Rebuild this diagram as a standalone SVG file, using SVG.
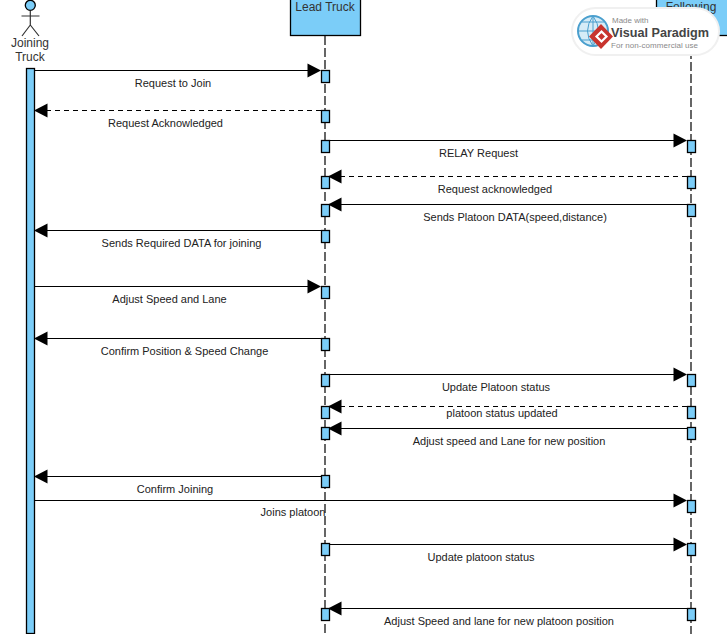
<svg xmlns="http://www.w3.org/2000/svg" width="727" height="634" viewBox="0 0 727 634">
<style>
text{font-family:"Liberation Sans",Arial,sans-serif;font-size:11px;fill:#222;text-anchor:middle}
.head{font-size:12px;fill:#333}
.fill{fill:#7bcdf8;stroke:#000;stroke-width:1.3}
.life{stroke:#000;stroke-width:1.2;stroke-dasharray:9 3;fill:none}
.msg{stroke:#000;stroke-width:1.2;fill:none}
.ret{stroke-dasharray:5 4}
.ah{fill:#000}
.wm{font-size:8px;fill:#8a8a8a;text-anchor:start}
</style>
<rect width="727" height="634" fill="#fff"/>
<g id="connectors">
<path class="life" d="M325 36V634"/>
<path class="life" d="M691 50V634"/>
<path class="msg" d="M35 70.500H309"/><path class="ah" d="M307.500 63.500L321 70.500L307.500 77.500Z"/>
<path class="msg ret" d="M321 110.500H46"/><path class="ah" d="M47.500 103.500L34 110.500L47.500 117.500Z"/>
<path class="msg" d="M330 140.500H675"/><path class="ah" d="M673.500 133.500L687 140.500L673.500 147.500Z"/>
<path class="msg ret" d="M687 176.500H340"/><path class="ah" d="M341.500 169.500L328 176.500L341.500 183.500Z"/>
<path class="msg" d="M687 204.500H340"/><path class="ah" d="M341.500 197.500L328 204.500L341.500 211.500Z"/>
<path class="msg" d="M321 230.500H46"/><path class="ah" d="M47.500 223.500L34 230.500L47.500 237.500Z"/>
<path class="msg" d="M35 286.500H309"/><path class="ah" d="M307.500 279.500L321 286.500L307.500 293.500Z"/>
<path class="msg" d="M321 338.500H46"/><path class="ah" d="M47.500 331.500L34 338.500L47.500 345.500Z"/>
<path class="msg" d="M330 374.500H675"/><path class="ah" d="M673.500 367.500L687 374.500L673.500 381.500Z"/>
<path class="msg ret" d="M687 406.500H340"/><path class="ah" d="M341.500 399.500L328 406.500L341.500 413.500Z"/>
<path class="msg" d="M687 428.500H340"/><path class="ah" d="M341.500 421.500L328 428.500L341.500 435.500Z"/>
<path class="msg" d="M321 476.500H46"/><path class="ah" d="M47.500 469.500L34 476.500L47.500 483.500Z"/>
<path class="msg" d="M35 500.500H675"/><path class="ah" d="M673.500 493.500L687 500.500L673.500 507.500Z"/>
<path class="msg" d="M330 544.500H675"/><path class="ah" d="M673.500 537.500L687 544.500L673.500 551.500Z"/>
<path class="msg" d="M687 608.500H340"/><path class="ah" d="M341.500 601.500L328 608.500L341.500 615.500Z"/>
</g>
<g id="joining-truck">
<circle class="fill" cx="30.300" cy="5.300" r="5"/>
<path d="M30.300 10.500V25M21.500 16H39.500M30.300 25L22 36M30.300 25L39 36" stroke="#333" stroke-width="1.200" fill="none"/>
<text class="head" x="30" y="47">Joining</text>
<text class="head" x="30" y="61">Truck</text>
<rect class="fill" x="26.500" y="68.500" width="8" height="565"/>
</g>
<g id="lead-truck">
<rect class="fill" x="290.500" y="-2" width="70" height="37.500"/>
<text class="head" x="325" y="10.500">Lead Truck</text>
<rect class="fill" x="321.500" y="70.500" width="8" height="12"/>
<rect class="fill" x="321.500" y="110.500" width="8" height="12"/>
<rect class="fill" x="321.500" y="140.500" width="8" height="12"/>
<rect class="fill" x="321.500" y="176.500" width="8" height="12"/>
<rect class="fill" x="321.500" y="204.500" width="8" height="12"/>
<rect class="fill" x="321.500" y="230.500" width="8" height="12"/>
<rect class="fill" x="321.500" y="286.500" width="8" height="12"/>
<rect class="fill" x="321.500" y="338.500" width="8" height="12"/>
<rect class="fill" x="321.500" y="374.500" width="8" height="12"/>
<rect class="fill" x="321.500" y="406.500" width="8" height="12"/>
<rect class="fill" x="321.500" y="427.500" width="8" height="12"/>
<rect class="fill" x="321.500" y="475.500" width="8" height="12"/>
<rect class="fill" x="321.500" y="543.500" width="8" height="12"/>
<rect class="fill" x="321.500" y="608.500" width="8" height="12"/>
</g>
<g id="following">
<rect class="fill" x="656.500" y="-2" width="80" height="37.500"/>
<text class="head" x="691" y="10.500">Following</text>
<rect class="fill" x="687.500" y="140.500" width="8" height="12"/>
<rect class="fill" x="687.500" y="176.500" width="8" height="12"/>
<rect class="fill" x="687.500" y="204.500" width="8" height="12"/>
<rect class="fill" x="687.500" y="374.500" width="8" height="12"/>
<rect class="fill" x="687.500" y="406.500" width="8" height="12"/>
<rect class="fill" x="687.500" y="427.500" width="8" height="12"/>
<rect class="fill" x="687.500" y="500.500" width="8" height="12"/>
<rect class="fill" x="687.500" y="543.500" width="8" height="12"/>
<rect class="fill" x="687.500" y="608.500" width="8" height="12"/>
</g>
<g id="labels">
<text x="173" y="87">Request to Join</text>
<text x="165.500" y="127">Request Acknowledged</text>
<text x="478.500" y="157">RELAY Request</text>
<text x="495" y="193">Request acknowledged</text>
<text x="515" y="221">Sends Platoon DATA(speed,distance)</text>
<text x="181.500" y="247">Sends Required DATA for joining</text>
<text x="169.500" y="303">Adjust Speed and Lane</text>
<text x="184.500" y="355">Confirm Position &amp; Speed Change</text>
<text x="496" y="391">Update Platoon status</text>
<text x="502" y="417">platoon status updated</text>
<text x="509" y="445">Adjust speed and Lane for new position</text>
<text x="175" y="493">Confirm Joining</text>
<text x="293" y="516">Joins platoon</text>
<text x="481" y="561">Update platoon status</text>
<text x="499" y="625">Adjust Speed and lane for new platoon position</text>
</g>
<g id="watermark">
<rect x="572" y="8" width="147" height="47" rx="23.500" fill="#fff" stroke="#f0f0f0" stroke-width="2"/>
<circle cx="593" cy="31" r="15" fill="#d6ecf7" stroke="#4a9fce" stroke-width="2"/>
<path d="M578 31H608M593 16V46M582 22H604M582 40H604M593 16Q582 31 593 46M593 16Q604 31 593 46" stroke="#4a9fce" stroke-width="1" fill="none"/>
<path d="M601 24L613 36.500L601 49L589 36.500Z" fill="#c8342e"/>
<path d="M596.500 36.500L601.500 31.500L606.500 36.500L601.500 41.500Z" fill="none" stroke="#fff" stroke-width="2.200"/>
<text class="wm" x="612" y="22.500">Made with</text>
<text x="611" y="37" style="font-size:13.500px;font-weight:bold;fill:#444;text-anchor:start" textLength="98" lengthAdjust="spacingAndGlyphs">Visual Paradigm</text>
<text class="wm" x="611" y="47.500" textLength="87">For non-commercial use</text>
</g>
</svg>
